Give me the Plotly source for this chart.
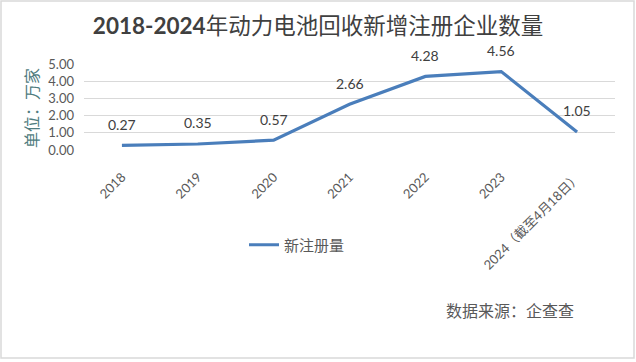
import plotly.graph_objects as go

categories = ["2018", "2019", "2020", "2021", "2022", "2023", "2024（截至4月18日）"]
values = [0.27, 0.35, 0.57, 2.66, 4.28, 4.56, 1.05]
labels = ["0.27", "0.35", "0.57", "2.66", "4.28", "4.56", "1.05"]
y_ticks = [0, 1, 2, 3, 4, 5]
y_tick_text = ["0.00", "1.00", "2.00", "3.00", "4.00", "5.00"]

W, H = 636, 362
L, R, T, B = 84, 21, 64, 212
pw, ph = W - L - R, H - T - B

FONT = "Lato, 'Noto Sans CJK SC', sans-serif"
CJK = "'Noto Sans CJK SC', sans-serif"

fig = go.Figure()
fig.add_trace(go.Scatter(
    x=categories, y=values, mode="lines", name="新注册量",
    line=dict(color="#4a7ebb", width=3.2),
))

for i, (v, t) in enumerate(zip(values, labels)):
    fig.add_annotation(x=i, y=v, xref="x", yref="y", text=t, showarrow=False, yshift=21,
                       font=dict(family=FONT, size=14, color="#404040"))

fig.add_annotation(xref="paper", yref="paper", x=(510 - L) / pw, y=(150 - 310) / ph,
                   text="数据来源：企查查", showarrow=False, xanchor="center", yanchor="middle",
                   font=dict(family=CJK, size=16, color="#595959"))

fig.add_annotation(xref="paper", yref="paper", x=(31 - L) / pw, y=(150 - 108) / ph,
                   text="单位：万家", showarrow=False, textangle=-90, xanchor="center", yanchor="middle",
                   font=dict(family=CJK, size=16, color="#4f7c80"))

fig.add_shape(type="rect", xref="paper", yref="paper",
              x0=(1 - L) / pw, x1=(634 - L) / pw, y0=(T + ph - 358) / ph, y1=(T + ph - 1) / ph,
              line=dict(color="#d9d9d9", width=1.5))

fig.update_layout(
    width=W, height=H,
    margin=dict(l=L, r=R, t=T, b=B, autoexpand=False),
    paper_bgcolor="white", plot_bgcolor="white",
    title=dict(text="<b>2018-2024</b>年动力电池回收新增注册企业数量", x=0.5, xanchor="center",
               y=1 - 26 / H, yanchor="middle",
               font=dict(family=FONT, size=22.5, color="#404040")),
    showlegend=True,
    legend=dict(orientation="h", x=(244 - L) / pw, y=(150 - 245) / ph, xanchor="left", yanchor="middle",
                font=dict(family=CJK, size=15, color="#595959"), bgcolor="rgba(0,0,0,0)"),
    xaxis=dict(type="category", tickangle=-45, showgrid=False, showline=False, ticks="",
               automargin=False, ticklabelstandoff=16,
               tickfont=dict(family=FONT, size=13, color="#595959"), range=[-0.5, 6.5]),
    yaxis=dict(range=[0, 5], tickvals=y_ticks, ticktext=y_tick_text, showgrid=True,
               automargin=False, ticklabelstandoff=9,
               gridcolor="#d9d9d9", gridwidth=1, zeroline=False, showline=False, ticks="",
               tickfont=dict(family=FONT, size=13, color="#595959")),
)

fig.write_html("out.html", config={"displayModeBar": False},
               post_script="document.body.style.margin='0px';")
